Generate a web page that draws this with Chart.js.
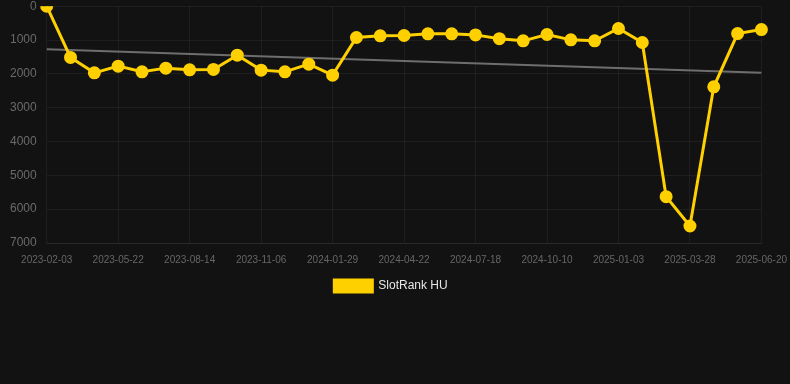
<!DOCTYPE html>
<html>
<head>
<meta charset="utf-8">
<script src="https://cdn.jsdelivr.net/npm/chart.js@4"></script>
<style>
html,body{margin:0;padding:0;background:#121212;overflow:hidden;width:790px;height:384px;}
#wrap{width:798px;height:313px;position:relative;margin-top:-11px;}
</style>
</head>
<body>
<div id="wrap"><canvas id="c"></canvas></div>
<script>
const labels = [
  "2023-02-03","2023-03-10","2023-04-16","2023-05-22","2023-06-19","2023-07-17","2023-08-14",
  "2023-09-11","2023-10-09","2023-11-06","2023-12-04","2024-01-01","2024-01-29","2024-02-26",
  "2024-03-25","2024-04-22","2024-05-21","2024-06-19","2024-07-18","2024-08-15","2024-09-12",
  "2024-10-10","2024-11-07","2024-12-06","2025-01-03","2025-01-31","2025-02-28","2025-03-28",
  "2025-04-25","2025-05-23","2025-06-20"
];
const rankValues = [
  0, 1515, 1970, 1772, 1940, 1831, 1880, 1870, 1447, 1890, 1940, 1713, 2038,
  925, 877, 866, 818, 818, 848, 960, 1024, 837, 995, 1024, 660, 1073,
  5631, 6497, 2383, 808, 690
];
const trendStart = 1270;
const trendEnd = 1970;
const yTicks = [0, 1000, 2000, 3000, 4000, 5000, 6000, 7000];

const legendShift = {
  id: 'legendShift',
  afterLayout(chart) {
    if (chart.legend) { chart.legend.left -= 8; chart.legend.right -= 8; }
  }
};

new Chart(document.getElementById('c'), {
  type: 'line',
  data: {
    labels: labels,
    datasets: [
      {
        label: 'SlotRank HU',
        data: rankValues,
        borderColor: '#FFD000',
        backgroundColor: '#FFD000',
        borderWidth: 3,
        pointRadius: 5,
        pointHoverRadius: 5,
        pointBackgroundColor: '#FFD000',
        pointBorderColor: '#FFD000',
        tension: 0,
        order: 1
      },
      {
        label: 'trend',
        data: [{x: labels[0], y: trendStart}, {x: labels[labels.length - 1], y: trendEnd}],
        borderColor: '#6e6e6e',
        borderWidth: 2,
        pointRadius: 0,
        tension: 0,
        order: 2
      }
    ]
  },
  plugins: [legendShift],
  options: {
    responsive: true,
    maintainAspectRatio: false,
    animation: false,
    plugins: {
      tooltip: {enabled: false},
      legend: {
        position: 'bottom',
        labels: {
          color: '#e6e6e6',
          boxWidth: 38,
          boxHeight: 12,
          padding: 3,
          font: {family: 'Liberation Sans, Arial, sans-serif', size: 12},
          filter: (item) => item.datasetIndex === 0
        }
      }
    },
    scales: {
      x: {
        offset: false,
        grid: {color: 'rgba(255,255,255,0.05)', drawTicks: false},
        border: {color: 'rgba(255,255,255,0.05)'},
        ticks: {
          color: '#666',
          font: {family: 'Liberation Sans, Arial, sans-serif', size: 10},
          maxRotation: 0,
          autoSkip: true,
          padding: 11,
          callback: function(v, i) { return i % 3 === 0 ? labels[i] : null; }
        }
      },
      y: {
        reverse: true,
        min: 0,
        max: 7000,
        afterBuildTicks: (axis) => { axis.ticks = yTicks.map(v => ({value: v})); },
        grid: {color: 'rgba(255,255,255,0.05)', drawTicks: false},
        border: {display: false},
        ticks: {
          color: '#6a6a6a',
          font: {family: 'Liberation Sans, Arial, sans-serif', size: 12},
          padding: 10,
          callback: (v) => String(v)
        }
      }
    }
  }
});
</script>
</body>
</html>
